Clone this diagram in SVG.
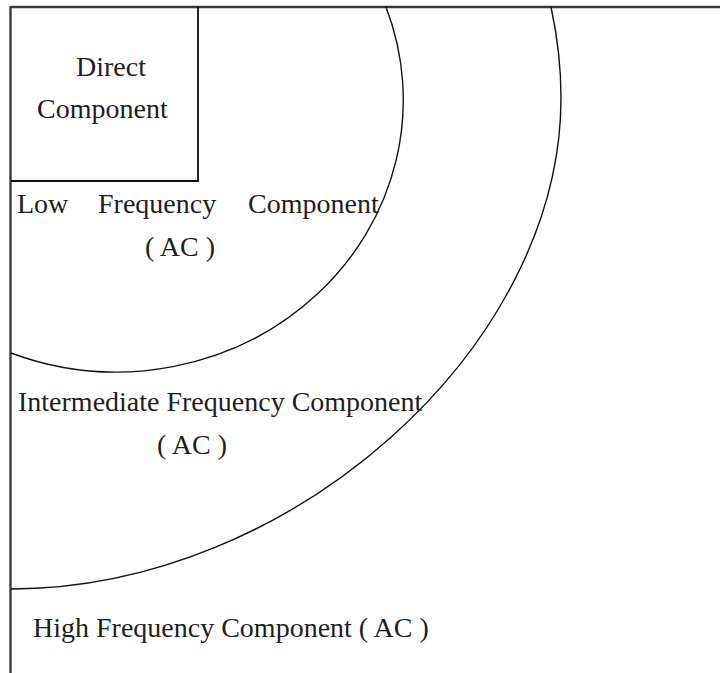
<svg xmlns="http://www.w3.org/2000/svg" width="720" height="673" viewBox="0 0 720 673">
<style>
  .frame{fill:none;stroke:#3a3a3a;stroke-width:2.4}
  .box{fill:none;stroke:#111;stroke-width:1.8}
  .arc{fill:none;stroke:#111;stroke-width:1.4}
  .lbl{font-family:"Liberation Serif","Times New Roman",serif;font-size:28px;fill:#1e1e1e}
</style>
<rect width="720" height="673" fill="#fff"/>
<g id="high-frequency-region">
  <line class="frame" x1="10.5" y1="7" x2="720" y2="7"/>
  <line class="frame" x1="10.5" y1="6" x2="10.5" y2="673"/>
  <text class="lbl" x="33" y="637">High Frequency Component ( AC )</text>
</g>
<g id="intermediate-frequency-region">
  <path class="arc" d="M551,7 C556,30 561,60 561,98 C561,348 291,589 11,589"/>
  <text class="lbl" x="18" y="411">Intermediate Frequency Component</text>
  <text class="lbl" x="157" y="454">( AC )</text>
</g>
<g id="low-frequency-region">
  <path class="arc" d="M386,7 A287,272 0 0 1 11,353"/>
  <text class="lbl" y="213"><tspan x="17">Low</tspan><tspan x="98">Frequency</tspan><tspan x="248">Component</tspan></text>
  <text class="lbl" x="145" y="256">( AC )</text>
</g>
<g id="direct-component">
  <polyline class="box" points="198,7 198,181 11,181"/>
  <text class="lbl" x="76" y="76">Direct</text>
  <text class="lbl" x="37" y="118">Component</text>
</g>
<g id="connectors"/>
</svg>
